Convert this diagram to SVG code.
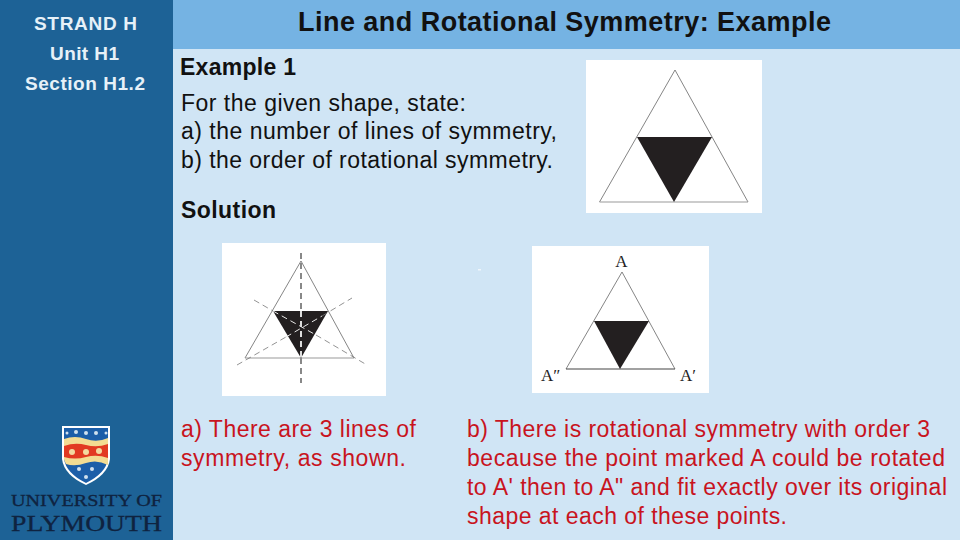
<svg xmlns="http://www.w3.org/2000/svg" width="960" height="540" viewBox="0 0 960 540">
<style>
text{font-family:"Liberation Sans",Arial,sans-serif}
.side{fill:#e6f1f8;font-size:19px;font-weight:700;text-anchor:middle}
.blk{fill:#111;font-size:23px}
.b{font-weight:700}
.red{fill:#c8141e;font-size:23px}
.edge{fill:none;stroke:#666;stroke-width:.8}
.base{stroke:#999;stroke-width:1.2}
.ser{font-family:"Liberation Serif",serif;fill:#222;font-size:17px}
.dash{stroke:#777;stroke-width:.8;stroke-dasharray:6 4;fill:none}
.wd{stroke:#e8e8e8;stroke-width:1;stroke-dasharray:6 4;fill:none}
.logo{font-family:"Liberation Serif",serif;fill:#0f2340;stroke:#0f2340;stroke-width:.3}
</style>
<rect width="960" height="540" fill="#d0e5f5"/>
<rect width="173" height="540" fill="#1d6296"/>
<rect x="173" width="787" height="49" fill="#75b3e3"/>
<text class="side" x="85.500" y="30" textLength="103">STRAND H</text>
<text class="side" x="84.500" y="60" textLength="69">Unit H1</text>
<text class="side" x="85" y="90" textLength="120">Section H1.2</text>
<text x="298" y="31" fill="#111" font-size="27" font-weight="700" textLength="533" lengthAdjust="spacing">Line and Rotational Symmetry: Example</text>
<text class="blk b" x="180" y="75" textLength="116" lengthAdjust="spacing">Example 1</text>
<text class="blk" x="181" y="111" textLength="285" lengthAdjust="spacing">For the given shape, state:</text>
<text class="blk" x="181" y="139" textLength="376" lengthAdjust="spacing">a) the number of lines of symmetry,</text>
<text class="blk" x="181" y="168" textLength="372" lengthAdjust="spacing">b) the order of rotational symmetry.</text>
<text class="blk b" x="181" y="218" textLength="95" lengthAdjust="spacing">Solution</text>

<g id="shape-question">
<rect x="586" y="60" width="176" height="153" fill="#fff"/>
<path class="edge" d="M599.500 202L675 70L748 202"/>
<path class="base" d="M599.500 202H748"/>
<path d="M637 137H712L674 202Z" fill="#231f20"/>
</g>
<g id="shape-lines">
<rect x="222" y="243" width="164" height="153" fill="#fff"/>
<path class="edge" d="M245 358L301 261L354 358"/>
<path class="base" d="M245 358H354"/>
<path d="M273 311H328L301 358Z" fill="#231f20"/>
<path class="dash" d="M237 365L286 337M322 316L352 298M254 300L273 311M316 335L367 365"/>
<path class="wd" d="M286 337L322 316M273 311L316 335"/>
<path d="M301 253V311" stroke="#888" stroke-width="2" stroke-dasharray="6 4" fill="none"/>
<path d="M301 311V358" stroke="#ddd" stroke-width="2" stroke-dasharray="6 4" fill="none"/>
<path d="M301 358V383" stroke="#888" stroke-width="2" stroke-dasharray="6 4" fill="none"/>
</g>
<rect x="478" y="269" width="3" height="1.500" fill="#f0f6fb"/>
<g id="shape-rotation">
<rect x="532" y="246" width="177" height="147" fill="#fff"/>
<path class="edge" d="M566 369L622 272L675 369"/>
<path d="M566 369H675" stroke="#444" stroke-width="1.200"/>
<path d="M594 321H649L620 369Z" fill="#231f20"/>
<text class="ser" x="621.500" y="267" text-anchor="middle">A</text>
<text class="ser" x="541" y="381">A″</text>
<text class="ser" x="680" y="381">A′</text>
</g>

<text class="red" x="181" y="437" textLength="235" lengthAdjust="spacing">a) There are 3 lines of</text>
<text class="red" x="181" y="466" textLength="225" lengthAdjust="spacing">symmetry, as shown.</text>
<text class="red" x="467" y="437" textLength="463" lengthAdjust="spacing">b) There is rotational symmetry with order 3</text>
<text class="red" x="467" y="466" textLength="478" lengthAdjust="spacing">because the point marked A could be rotated</text>
<text class="red" x="467" y="495" textLength="480" lengthAdjust="spacing">to A' then to A" and fit exactly over its original</text>
<text class="red" x="467" y="524" textLength="320" lengthAdjust="spacing">shape at each of these points.</text>

<g id="logo">
<path d="M62 426H110V459Q108 475 86 485Q64 475 62 459Z" fill="#fff"/>
<path d="M64 428H108V459Q106 473 86 483Q66 473 64 459Z" fill="#1c5ea8"/>
<path d="M64 439Q75 435 86 439Q97 443 108 438V465Q97 459 86 463Q75 467 66 464Q64 460 64 459Z" fill="#f3dc93"/>
<path d="M64 446Q75 442 86 445Q97 448 108 444V458Q97 454 86 457Q75 460 64 457Z" fill="#e23a22"/>
<g fill="#f3d9a0"><circle cx="72" cy="452" r="3"/><circle cx="86" cy="452" r="3"/><circle cx="99" cy="451" r="3"/></g>
<g fill="#cfe0ee"><circle cx="67" cy="433" r="1.500"/><circle cx="76" cy="432" r="2"/><circle cx="86" cy="433" r="2"/><circle cx="96" cy="433" r="2"/><circle cx="106" cy="433" r="1.500"/><circle cx="79" cy="469" r="2"/><circle cx="92" cy="469" r="2"/><circle cx="86" cy="477" r="2"/></g>
<text class="logo" x="11" y="505.500" font-size="16" textLength="151" lengthAdjust="spacingAndGlyphs">UNIVERSITY OF</text>
<text class="logo" x="11" y="530.500" font-size="24" textLength="151" lengthAdjust="spacingAndGlyphs">PLYMOUTH</text>
</g>
</svg>
